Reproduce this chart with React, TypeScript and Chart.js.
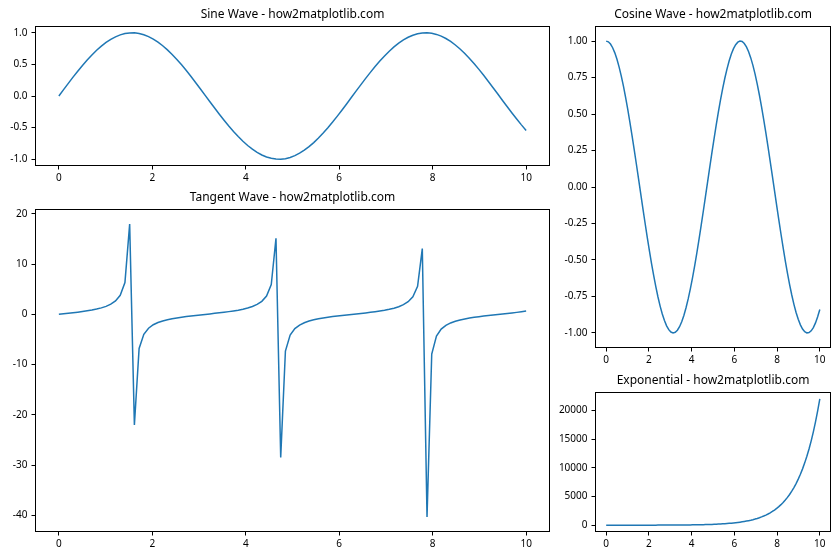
import { useEffect, useRef } from "react";
import { Chart, registerables } from "chart.js";

Chart.register(...registerables);

const FONT = "'Noto Sans', 'Open Sans', sans-serif";

const xValues = [
  0, 0.101, 0.202, 0.303, 0.404, 0.5051, 0.6061, 0.7071, 0.8081, 0.9091,
  1.0101, 1.1111, 1.2121, 1.3131, 1.4141, 1.5152, 1.6162, 1.7172, 1.8182, 1.9192,
  2.0202, 2.1212, 2.2222, 2.3232, 2.4242, 2.5253, 2.6263, 2.7273, 2.8283, 2.9293,
  3.0303, 3.1313, 3.2323, 3.3333, 3.4343, 3.5354, 3.6364, 3.7374, 3.8384, 3.9394,
  4.0404, 4.1414, 4.2424, 4.3434, 4.4444, 4.5455, 4.6465, 4.7475, 4.8485, 4.9495,
  5.0505, 5.1515, 5.2525, 5.3535, 5.4545, 5.5556, 5.6566, 5.7576, 5.8586, 5.9596,
  6.0606, 6.1616, 6.2626, 6.3636, 6.4646, 6.5657, 6.6667, 6.7677, 6.8687, 6.9697,
  7.0707, 7.1717, 7.2727, 7.3737, 7.4747, 7.5758, 7.6768, 7.7778, 7.8788, 7.9798,
  8.0808, 8.1818, 8.2828, 8.3838, 8.4848, 8.5859, 8.6869, 8.7879, 8.8889, 8.9899,
  9.0909, 9.1919, 9.2929, 9.3939, 9.4949, 9.596, 9.697, 9.798, 9.899, 10,
];

const sineValues = [
  0, 0.1008, 0.2006, 0.2984, 0.3931, 0.4839, 0.5696, 0.6496, 0.723, 0.789,
  0.8469, 0.8962, 0.9364, 0.967, 0.9878, 0.9985, 0.999, 0.9893, 0.9696, 0.9399,
  0.9007, 0.8523, 0.7952, 0.73, 0.6574, 0.5781, 0.4928, 0.4026, 0.3082, 0.2107,
  0.1111, 0.0103, -0.0906, -0.1906, -0.2886, -0.3837, -0.4748, -0.5612, -0.6418, -0.7158,
  -0.7826, -0.8414, -0.8916, -0.9327, -0.9643, -0.9861, -0.9978, -0.9994, -0.9908, -0.972,
  -0.9434, -0.9051, -0.8576, -0.8014, -0.737, -0.6651, -0.5864, -0.5017, -0.412, -0.318,
  -0.2208, -0.1213, -0.0206, 0.0804, 0.1805, 0.2787, 0.3742, 0.4658, 0.5526, 0.6339,
  0.7086, 0.7762, 0.8358, 0.8869, 0.929, 0.9616, 0.9843, 0.9971, 0.9997, 0.9921,
  0.9744, 0.9468, 0.9095, 0.8629, 0.8075, 0.7439, 0.6728, 0.5947, 0.5106, 0.4213,
  0.3277, 0.2308, 0.1315, 0.0308, -0.0701, -0.1704, -0.2688, -0.3646, -0.4566, -0.544,
];

const cosineValues = [
  1, 0.9949, 0.9797, 0.9544, 0.9195, 0.8752, 0.8219, 0.7603, 0.6909, 0.6145,
  0.5318, 0.4437, 0.351, 0.2548, 0.156, 0.0556, -0.0454, -0.1458, -0.2449, -0.3414,
  -0.4344, -0.523, -0.6063, -0.6834, -0.7536, -0.816, -0.8701, -0.9154, -0.9513, -0.9776,
  -0.9938, -0.9999, -0.9959, -0.9817, -0.9575, -0.9235, -0.8801, -0.8277, -0.7669, -0.6983,
  -0.6225, -0.5405, -0.4529, -0.3606, -0.2648, -0.1662, -0.0659, 0.0351, 0.1357, 0.2349,
  0.3317, 0.4252, 0.5143, 0.5981, 0.6759, 0.7468, 0.81, 0.865, 0.9112, 0.9481,
  0.9753, 0.9926, 0.9998, 0.9968, 0.9836, 0.9604, 0.9274, 0.8849, 0.8334, 0.7735,
  0.7056, 0.6306, 0.5491, 0.462, 0.3702, 0.2747, 0.1763, 0.0761, -0.0248, -0.1255,
  -0.2249, -0.322, -0.4158, -0.5054, -0.5898, -0.6683, -0.7399, -0.804, -0.8598, -0.9069,
  -0.9448, -0.973, -0.9913, -0.9995, -0.9975, -0.9854, -0.9632, -0.9312, -0.8897, -0.8391,
];

const tangentValues = [
  0, 0.1014, 0.2048, 0.3127, 0.4276, 0.5529, 0.6931, 0.8545, 1.0464, 1.284,
  1.5926, 2.0199, 2.6675, 3.7947, 6.3311, 17.953, -22.028, -6.783, -3.96, -2.753,
  -2.073, -1.63, -1.312, -1.068, -0.872, -0.708, -0.566, -0.44, -0.324, -0.216,
  -0.112, -0.01, 0.091, 0.194, 0.301, 0.415, 0.54, 0.678, 0.837, 1.025,
  1.257, 1.557, 1.969, 2.586, 3.642, 5.935, 15.147, -28.49, -7.302, -4.138,
  -2.844, -2.129, -1.668, -1.34, -1.09, -0.891, -0.724, -0.58, -0.452, -0.335,
  -0.226, -0.122, -0.021, 0.081, 0.183, 0.29, 0.403, 0.526, 0.663, 0.82,
  1.004, 1.231, 1.522, 1.92, 2.509, 3.501, 5.584, 13.097, -40.305, -7.906,
  -4.333, -2.94, -2.187, -1.707, -1.369, -1.113, -0.909, -0.74, -0.594, -0.465,
  -0.347, -0.237, -0.133, -0.031, 0.07, 0.173, 0.279, 0.392, 0.513, 0.648,
];

const expValues = [
  1.0, 1.11, 1.22, 1.35, 1.5, 1.66, 1.83, 2.03, 2.24, 2.48,
  2.75, 3.04, 3.36, 3.72, 4.11, 4.55, 5.03, 5.57, 6.16, 6.82,
  7.54, 8.34, 9.23, 10.21, 11.29, 12.49, 13.82, 15.29, 16.92, 18.72,
  20.7, 22.9, 25.34, 28.03, 31.01, 34.31, 37.95, 41.99, 46.45, 51.39,
  56.85, 62.89, 69.58, 76.97, 85.15, 94.2, 104.22, 115.3, 127.55, 141.1,
  156.1, 172.69, 191.05, 211.36, 233.82, 258.67, 286.17, 316.59, 350.24, 387.47,
  428.63, 474.2, 524.59, 580.35, 642.03, 710.28, 785.77, 869.3, 961.71, 1063.94,
  1176.98, 1302.07, 1440.46, 1593.55, 1762.92, 1950.32, 2157.64, 2387.0, 2640.71, 2921.43,
  3231.8, 3575.3, 3955.4, 4375.8, 4840.9, 5355.4, 5924.6, 6554.3, 7251.0, 8021.6,
  8874.3, 9817.5, 10861.0, 12015.3, 13292.4, 14705.4, 16268.5, 17997.3, 19910.2, 22026.5,
];

const xTicks = [0, 2, 4, 6, 8, 10];
const xTickLabels = ["0", "2", "4", "6", "8", "10"];
const sineTicks = [-1, -0.5, 0, 0.5, 1];
const sineTickLabels = ["-1.0", "-0.5", "0.0", "0.5", "1.0"];
const cosineTicks = [-1, -0.75, -0.5, -0.25, 0, 0.25, 0.5, 0.75, 1];
const cosineTickLabels = ["-1.00", "-0.75", "-0.50", "-0.25", "0.00", "0.25", "0.50", "0.75", "1.00"];
const tangentTicks = [-40, -30, -20, -10, 0, 10, 20];
const tangentTickLabels = ["-40", "-30", "-20", "-10", "0", "10", "20"];
const expTicks = [0, 5000, 10000, 15000, 20000];
const expTickLabels = ["0", "5000", "10000", "15000", "20000"];

const titles = [
  "Sine Wave - how2matplotlib.com",
  "Cosine Wave - how2matplotlib.com",
  "Tangent Wave - how2matplotlib.com",
  "Exponential - how2matplotlib.com",
];

type PanelSpec = {
  title: string;
  values: number[];
  yTicks: number[];
  yTickLabels: string[];
  left: number;
  top: number;
  width: number;
  height: number;
  yAxisW: number;
  xAxisH: number;
  padRight: number;
  titleTop: number;
};

const panels: PanelSpec[] = [
  { title: titles[0], values: sineValues, yTicks: sineTicks, yTickLabels: sineTickLabels,
    left: 0, top: 0, width: 560, height: 190, yAxisW: 35.5, xAxisH: 24.5, padRight: 10.5, titleTop: 7.8 },
  { title: titles[2], values: tangentValues, yTicks: tangentTicks, yTickLabels: tangentTickLabels,
    left: 0, top: 185, width: 560, height: 375, yAxisW: 35.5, xAxisH: 28.5, padRight: 10.5, titleTop: 5.8 },
  { title: titles[1], values: cosineValues, yTicks: cosineTicks, yTickLabels: cosineTickLabels,
    left: 552, top: 0, width: 288, height: 372, yAxisW: 43.5, xAxisH: 24.5, padRight: 9.5, titleTop: 7.8 },
  { title: titles[3], values: expValues, yTicks: expTicks, yTickLabels: expTickLabels,
    left: 552, top: 372, width: 288, height: 188, yAxisW: 43.5, xAxisH: 28.5, padRight: 9.5, titleTop: 1.8 },
];

const framePlugin = {
  id: "frame",
  afterDraw(chart: any) {
    const { ctx, chartArea: a } = chart;
    const l = Math.round(a.left - 0.5) + 0.5;
    const r = Math.round(a.right - 0.5) + 0.5;
    const t = Math.round(a.top - 0.5) + 0.5;
    const b = Math.round(a.bottom - 0.5) + 0.5;
    ctx.save();
    ctx.strokeStyle = "#000";
    ctx.lineWidth = 1;
    ctx.strokeRect(l, t, r - l, b - t);
    ctx.restore();
  },
};

function Panel({ spec }: { spec: PanelSpec }) {
  const ref = useRef<HTMLCanvasElement>(null);
  useEffect(() => {
    const canvas = ref.current;
    if (!canvas) return;
    const yMin = Math.min(...spec.values);
    const yMax = Math.max(...spec.values);
    const margin = (yMax - yMin) * 0.05;
    const tickFont = { family: FONT, size: 10 };
    const chart = new Chart(canvas, {
      type: "line",
      data: {
        datasets: [
          {
            data: xValues.map((x, i) => ({ x, y: spec.values[i] })),
            borderColor: "#1f77b4",
            borderWidth: 1.5,
            pointRadius: 0,
            tension: 0,
            fill: false,
          },
        ],
      },
      options: {
        animation: false,
        responsive: false,
        devicePixelRatio: 1,
        layout: { padding: { left: 0, top: 0, right: spec.padRight, bottom: 0 } },
        plugins: {
          legend: { display: false },
          tooltip: { enabled: false },
          title: {
            display: true,
            text: spec.title,
            fullSize: false,
            color: "#000",
            font: { family: FONT, size: 12, weight: "normal", lineHeight: 1.2 },
            padding: { top: spec.titleTop, bottom: 4.3 },
          },
        },
        scales: {
          x: {
            type: "linear",
            min: -0.5,
            max: 10.5,
            afterBuildTicks: (s: any) => {
              s.ticks = xTicks.map((v) => ({ value: v }));
            },
            afterFit: (s: any) => {
              s.height = spec.xAxisH;
            },
            ticks: {
              autoSkip: false,
              maxRotation: 0,
              padding: 3,
              color: "#000",
              font: tickFont,
              callback: (v: any) => {
                const k = xTicks.indexOf(Number(v));
                return k >= 0 ? xTickLabels[k] : "";
              },
            },
            grid: { drawOnChartArea: false, drawTicks: true, tickLength: 4, tickColor: "#000", tickWidth: 1 },
            border: { display: false },
          },
          y: {
            type: "linear",
            min: yMin - margin,
            max: yMax + margin,
            afterBuildTicks: (s: any) => {
              s.ticks = spec.yTicks.map((v) => ({ value: v }));
            },
            afterFit: (s: any) => {
              s.width = spec.yAxisW;
            },
            ticks: {
              autoSkip: false,
              padding: 4,
              color: "#000",
              font: tickFont,
              callback: (v: any) => {
                const k = spec.yTicks.indexOf(Number(v));
                return k >= 0 ? spec.yTickLabels[k] : "";
              },
            },
            grid: { drawOnChartArea: false, drawTicks: true, tickLength: 4, tickColor: "#000", tickWidth: 1 },
            border: { display: false },
          },
        },
      } as any,
      plugins: [framePlugin],
    });
    return () => chart.destroy();
  }, [spec]);
  return (
    <canvas
      ref={ref}
      width={spec.width}
      height={spec.height}
      style={{ position: "absolute", left: spec.left, top: spec.top, width: spec.width, height: spec.height }}
    />
  );
}

export default function App() {
  return (
    <div style={{ position: "fixed", left: 0, top: 0, width: 840, height: 560, background: "#fff", overflow: "hidden" }}>
      {panels.map((p, i) => (
        <Panel key={i} spec={p} />
      ))}
    </div>
  );
}
